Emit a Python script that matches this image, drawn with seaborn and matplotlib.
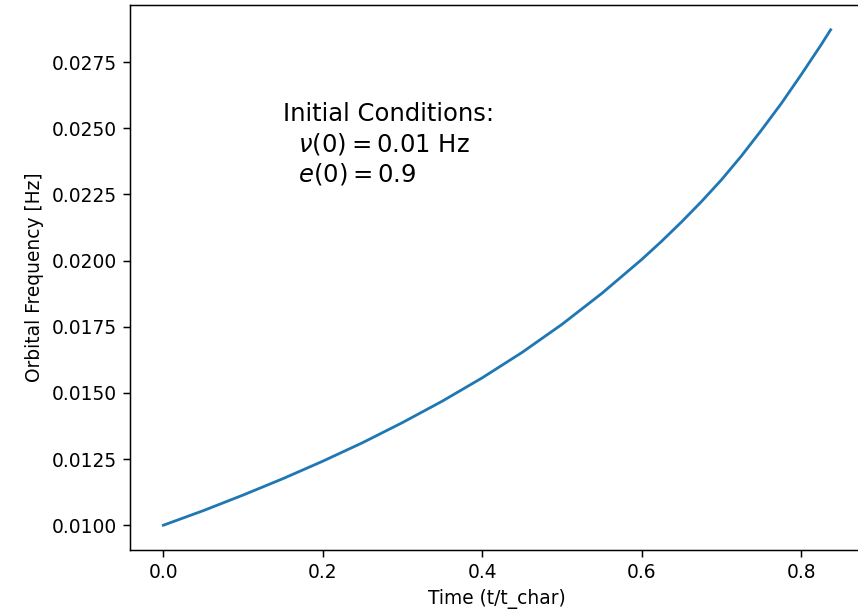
import numpy as np
import pandas as pd
import matplotlib
matplotlib.use('Agg')
import matplotlib.pyplot as plt
import seaborn as sns

# Values
time = [0.0, 0.05, 0.1, 0.15, 0.2, 0.25, 0.3, 0.35, 0.4, 0.45, 0.5,
        0.55, 0.6, 0.625, 0.65, 0.675, 0.7, 0.725, 0.75, 0.775, 0.8,
        0.825, 0.837]
freq = [0.01000, 0.01055, 0.01114, 0.01176, 0.01242, 0.01312, 0.01388,
        0.01469, 0.01557, 0.01653, 0.01759, 0.01876, 0.02004, 0.02073,
        0.02146, 0.02223, 0.02305, 0.02395, 0.02492, 0.02593, 0.02702,
        0.02815, 0.02872]

df = pd.DataFrame({'t': time, 'nu': freq})

dpi = 134
fig = plt.figure(figsize=(858 / dpi, 615 / dpi), dpi=dpi)
# the reference screenshot cuts off the right edge of the axes
ax = fig.add_axes([130 / 858, 1 - 550 / 615, 734 / 858, 545 / 615])

sns.lineplot(data=df, x='t', y='nu', ax=ax, color='#1f77b4', linewidth=1.5)

ax.set_xlabel('Time (t/t_char)')
ax.set_ylabel('Orbital Frequency [Hz]')
ax.set_yticks([0.0100, 0.0125, 0.0150, 0.0175, 0.0200, 0.0225, 0.0250, 0.0275])
ax.set_xticks([0.0, 0.2, 0.4, 0.6, 0.8])

ax.text(0.15, 0.023,
        'Initial Conditions:\n  $\\nu(0) = 0.01$ Hz\n  $e(0) = 0.9$',
        fontsize=13)

fig.savefig('out.png', dpi=dpi)
